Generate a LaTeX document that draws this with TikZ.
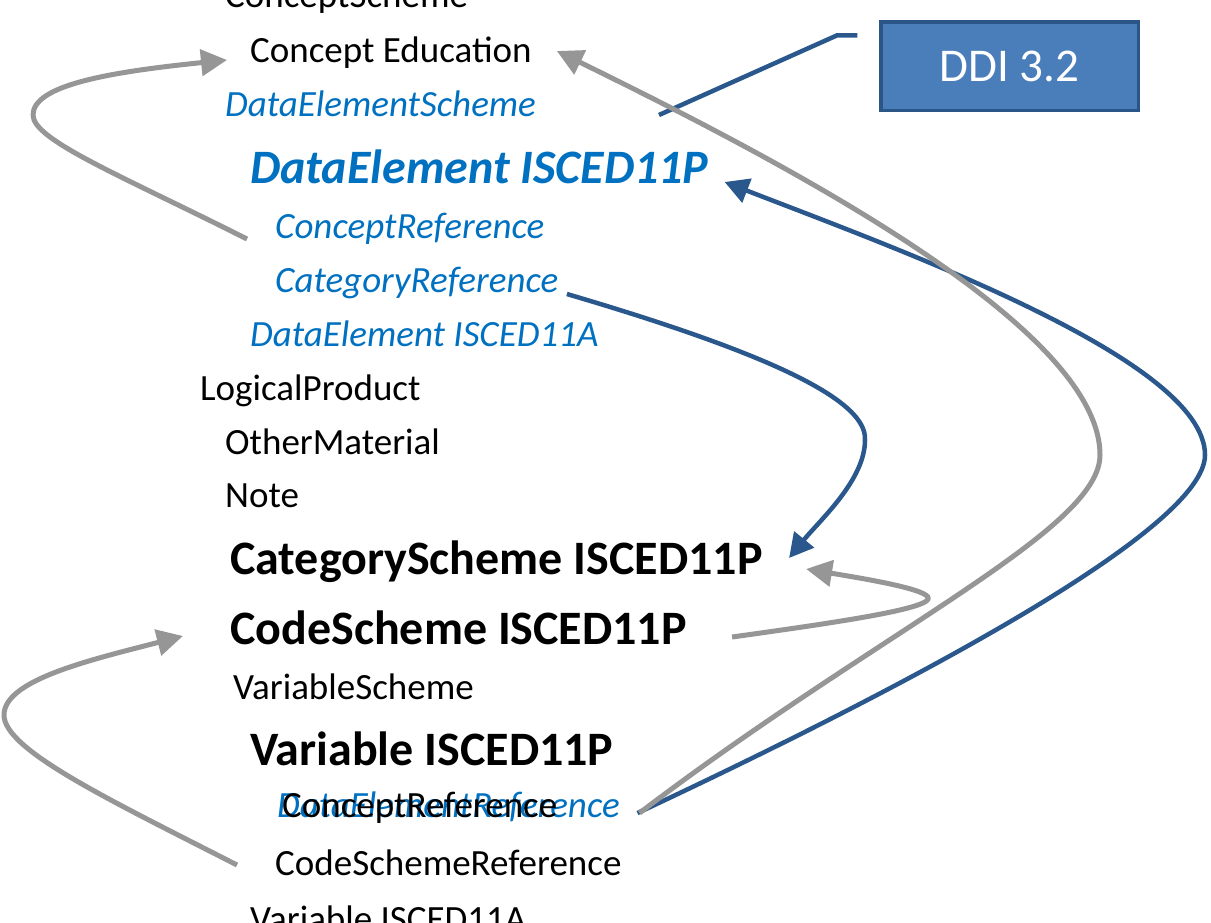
\documentclass[tikz,border=0pt]{standalone}
\usepackage{fontspec}
\setmainfont{Carlito}
\usetikzlibrary{arrows.meta,calc}
\definecolor{txtblue}{RGB}{0,112,192}
\definecolor{lineblue}{RGB}{42,88,140}
\definecolor{linegray}{RGB}{150,150,150}
\definecolor{boxfill}{RGB}{74,126,187}
\definecolor{boxdraw}{RGB}{42,85,135}
\begin{document}
\begin{tikzpicture}[x=1pt,y=-1pt,
  reg/.style={anchor=base west, inner sep=0pt, font=\fontsize{37pt}{44pt}\selectfont, text height=27.75pt, text depth=9.25pt},
  regblue/.style={reg, text=txtblue, font=\fontsize{37pt}{44pt}\selectfont\itshape},
  big/.style={anchor=base west, inner sep=0pt, font=\fontsize{48pt}{56pt}\selectfont\bfseries, text height=36pt, text depth=12pt},
  bigblue/.style={big, text=txtblue, font=\fontsize{48pt}{56pt}\selectfont\bfseries\itshape},
  grayarrow/.style={draw=linegray, line width=5pt, line join=round, -{Triangle[length=26pt,width=26pt]}},
  bluearrow/.style={draw=lineblue, line width=4.5pt, line join=round, -{Triangle[length=24pt,width=25pt]}},
  ddibox/.style={draw=boxdraw, fill=boxfill, line width=3.5pt, minimum width=257.5pt, minimum height=88.5pt, inner sep=0pt, text=white, font=\fontsize{47pt}{55pt}\selectfont},
  callout/.style={draw=lineblue, line width=4.5pt}
]
\useasboundingbox (0,0) rectangle (1211,922);
\clip (0,0) rectangle (1211,922);

% texts
\node[reg] (cs0) at (225,7) {ConceptScheme};
\node[reg] (ce) at (250,62) {Concept Education};
\node[regblue] (des) at (225,116) {DataElementScheme};
\node[bigblue] (de) at (250,183) {DataElement ISCED11P};
\node[regblue] (cr) at (275,238) {ConceptReference};
\node[regblue] (catr) at (275,292) {CategoryReference};
\node[regblue] (deA) at (250,346) {DataElement ISCED11A};
\node[reg] (lp) at (200,400) {LogicalProduct};
\node[reg] (om) at (225,454) {OtherMaterial};
\node[reg] (note) at (225,507) {Note};
\node[big] (cat) at (230,574) {CategoryScheme ISCED11P};
\node[big] (cs) at (230,644) {CodeScheme ISCED11P};
\node[reg] (vs) at (233,699) {VariableScheme};
\node[big] (v) at (250,765) {Variable ISCED11P};
\node[regblue] (der) at (277,817) {DataElementReference};
\node[reg] (crb) at (282,817) {ConceptReference};
\node[reg] (csr) at (275,875) {CodeSchemeReference};
\node[reg] (vA) at (250,931) {Variable ISCED11A};

% DDI box and callout
\node[ddibox] (ddi) at (1009.5,66) {DDI 3.2};
\coordinate (calloutend) at (659,115);
\draw[callout] ($(ddi.north west)+(-21.75,15.25)$) -- ++(-20,0) -- (calloutend);

% arrows
\draw[grayarrow] ($(cr.west)+(-28,10.25)$) .. controls (120,175) and (33,140) .. (33,115)
  .. controls (33,85) and (110,72) .. ($(ce.west)+(-23,7.25)$);
\draw[bluearrow] ($(der.east)+(17.5,5.25)$) .. controls (900,690) and (1205,530) .. (1205,455)
  .. controls (1205,360) and (900,250) .. ($(de.east)+(16,11)$);
\draw[grayarrow] ($(der.east)+(19.5,5.25)$) .. controls (880,630) and (1100,530) .. (1100,455)
  .. controls (1100,330) and (800,170) .. ($(ce.east)+(25,-1.75)$);
\draw[bluearrow] ($(catr.east)+(8.4,11.25)$) .. controls (740,345) and (868,395) .. (865,440)
  .. controls (865,480) and (820,520) .. ($(cat.east)+(26.2,-4)$);
\draw[grayarrow] ($(cs.east)+(45,5)$) .. controls (840,622) and (935,608) .. (928,597)
  .. controls (922,588) and (860,578) .. ($(cat.east)+(43.2,7)$);
\draw[grayarrow] ($(csr.west)+(-38,-0.75)$) .. controls (110,800) and (4,750) .. (4,715)
  .. controls (4,680) and (90,660) .. ($(cs.west)+(-47,4)$);
\end{tikzpicture}
\end{document}
